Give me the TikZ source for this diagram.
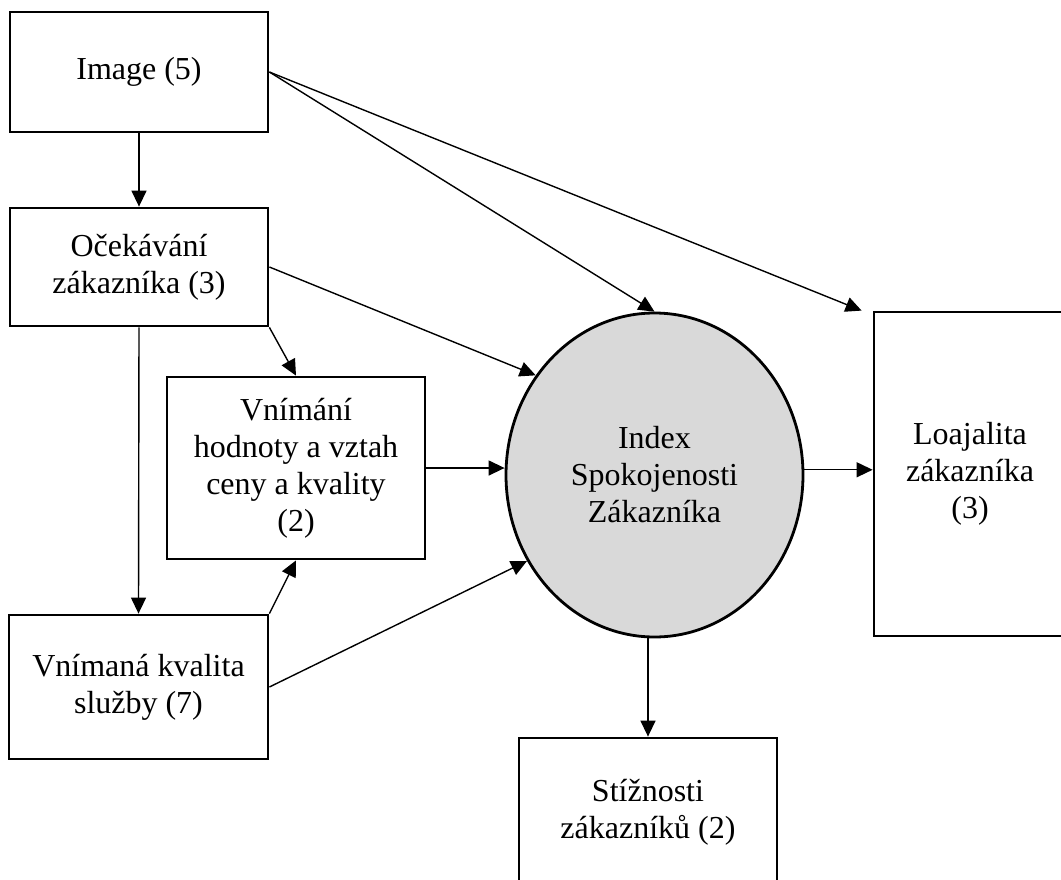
\documentclass[tikz,border=0pt]{standalone}
\usepackage{fontspec}
\setmainfont{Liberation Serif}
\usetikzlibrary{arrows.meta,shapes.geometric}
\definecolor{csigray}{RGB}{217,217,217}

\tikzset{
  box/.style={draw, line width=2.8pt, align=center, inner sep=0pt,
              font=\fontsize{32}{37}\selectfont},
  oval/.style={ellipse, draw, line width=2.8pt, fill=csigray, align=center,
               inner sep=0pt, font=\fontsize{32}{37}\selectfont},
  arr/.style={-{Triangle[length=16pt,width=15pt]}, line width=1.4pt},
}

\begin{document}
\begin{tikzpicture}[x=1pt,y=-1pt]
  \clip (0,0) rectangle (1061,879);

  % model factors
  \node[box, minimum width=258, minimum height=120] (img)  at (139,72)    {Image (5)};
  \node[box, minimum width=258, minimum height=118] (exp)  at (139,267)   {Očekávání\\zákazníka (3)};
  \node[box, minimum width=258, minimum height=182] (val)  at (296,468)   {Vnímání\\hodnoty a vztah\\ceny a kvality\\(2)};
  \node[box, minimum width=259, minimum height=144] (qual) at (138.5,687) {Vnímaná kvalita\\služby (7)};

  % satisfaction index and its outcomes
  \node[oval, minimum width=297, minimum height=324] (csi) at (654.5,475) {Index\\Spokojenosti\\Zákazníka};
  \node[box, minimum width=192, minimum height=324] (loy)  at (970,474)   {Loajalita\\zákazníka\\(3)};
  \node[box, minimum width=258, minimum height=148] (comp) at (648,812)   {Stížnosti\\zákazníků (2)};

  % relations
  \draw[arr] (img.south) -- (exp.north);
  \draw[arr] (img.east) -- (csi.north);
  \draw[arr] (img.east) -- ([xshift=-11pt]loy.north west);
  \draw[arr] (exp.east) -- (csi.140);
  \draw[arr] (exp.south east) -- (val.north);
  \draw[arr] (exp.south) -- (qual.north);
  \draw[arr] (val.east) -- (val.east -| csi.west);
  \draw[arr] (qual.north east) -- (val.south);
  \draw[arr] (qual.east) -- (csi.214);
  \draw[arr] (csi.2) -- (csi.2 -| loy.west);
  \draw[arr] (csi.south -| comp.north) -- (comp.north);
\end{tikzpicture}
\end{document}
